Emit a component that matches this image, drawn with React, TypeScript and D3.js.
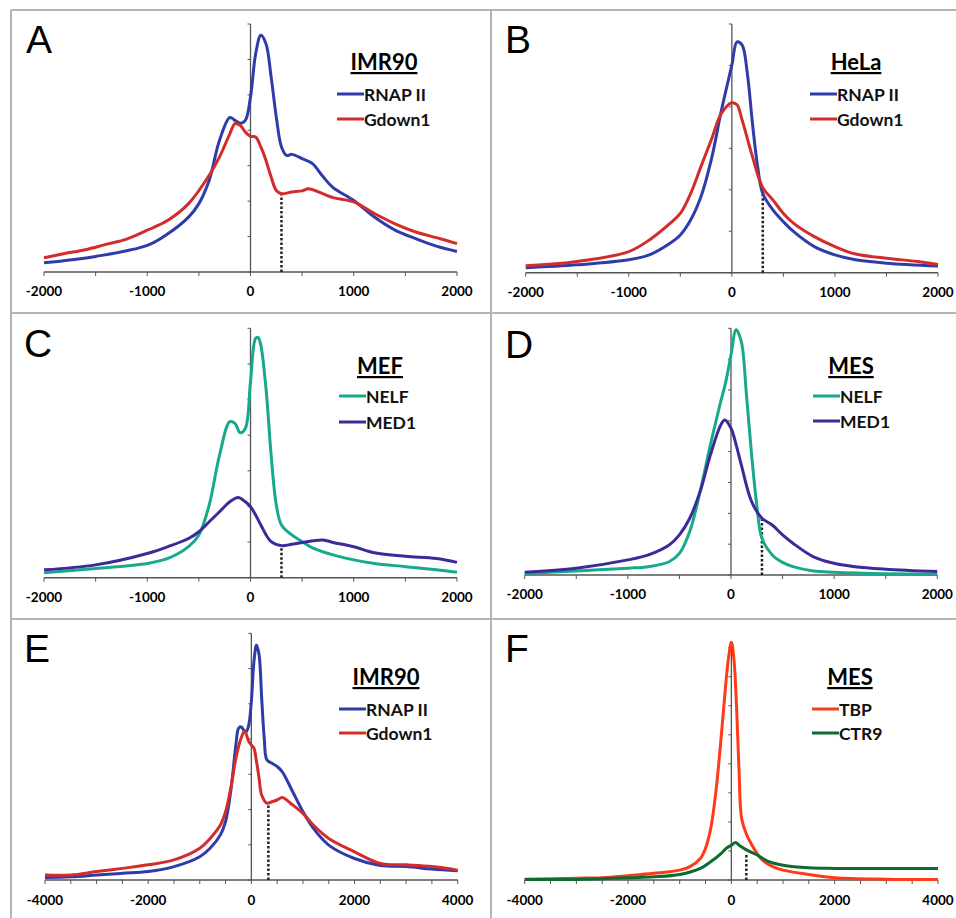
import React from 'react';
import * as d3 from 'd3';

// ---------------- DATA ----------------
// Panel A (IMR90) x in bp, y in tick units
const xA_rnap = [-2000,-1500,-1000,-800,-600,-500,-400,-300,-200,-150,-100,-50,0,50,100,150,200,250,300,350,400,500,600,700,800,1000,1200,1400,1600,1800,2000];
const yA_rnap = [0.26,0.44,0.75,1.08,1.55,1.93,2.59,3.72,4.36,4.28,4.2,4.28,4.94,6.16,6.68,6.44,5.5,4.37,3.53,3.29,3.32,3.2,3.06,2.7,2.38,2.02,1.55,1.18,0.94,0.73,0.58];
const xA_gdown = [-2000,-1800,-1600,-1400,-1200,-1000,-800,-600,-400,-300,-200,-150,-100,-50,0,50,100,150,200,250,300,400,500,560,700,800,1000,1200,1400,1600,1800,2000];
const yA_gdown = [0.40,0.52,0.63,0.78,0.93,1.18,1.46,1.93,2.73,3.25,3.9,4.19,4.14,3.95,3.83,3.81,3.53,3.15,2.68,2.3,2.21,2.26,2.29,2.35,2.21,2.1,1.98,1.65,1.36,1.13,0.97,0.8];

// Panel B (HeLa)
const xB_rnap = [-2000,-1500,-1000,-800,-600,-500,-400,-300,-200,-100,0,50,100,150,200,250,300,400,500,600,800,1000,1200,1500,2000];
const yB_rnap = [0.12,0.19,0.31,0.43,0.71,0.91,1.27,1.83,2.72,3.93,5.01,5.57,5.49,4.81,3.6,2.56,1.91,1.51,1.23,0.99,0.63,0.43,0.31,0.23,0.16];
const xB_gdown = [-2000,-1500,-1000,-800,-600,-500,-400,-300,-200,-100,0,50,100,200,300,400,500,600,800,1000,1200,1500,1800,2000];
const yB_gdown = [0.17,0.27,0.51,0.79,1.19,1.43,1.91,2.56,3.2,3.85,4.1,4.05,3.68,2.8,2.05,1.75,1.43,1.19,0.87,0.63,0.45,0.35,0.27,0.2];

// Panel C (MEF)
const xC_nelf = [-2000,-1500,-1000,-800,-600,-500,-400,-300,-200,-150,-100,-50,0,50,75,100,150,200,250,300,400,500,600,800,1000,1200,1500,1800,2000];
const yC_nelf = [0.14,0.26,0.4,0.54,0.87,1.2,2.04,3.44,4.38,4.33,4.07,4.19,5.5,6.72,6.74,6.53,5.31,3.44,2.04,1.48,1.2,1.01,0.84,0.64,0.5,0.4,0.31,0.22,0.15];
const xC_med = [-2000,-1500,-1000,-800,-600,-500,-400,-300,-200,-120,-50,0,50,100,200,300,400,500,700,800,1000,1200,1500,1800,2000];
const yC_med = [0.22,0.36,0.68,0.87,1.1,1.29,1.57,1.85,2.13,2.25,2.13,1.99,1.76,1.48,1.01,0.9,0.94,0.99,1.06,0.99,0.87,0.7,0.6,0.54,0.43];

// Panel D (MES)
const xD_nelf = [-2000,-1500,-1000,-800,-600,-500,-400,-300,-200,-100,-50,0,50,100,150,200,250,300,400,500,600,800,1000,1500,2000];
const yD_nelf = [0.05,0.13,0.22,0.27,0.43,0.7,1.41,2.7,4.22,5.62,6.27,7.14,7.95,7.57,5.84,3.89,2.27,1.19,0.65,0.41,0.27,0.13,0.09,0.04,0.02];
const xD_med = [-2000,-1500,-1000,-800,-600,-500,-400,-300,-200,-100,-60,0,50,100,200,300,400,500,600,800,1000,1200,1500,2000];
const yD_med = [0.09,0.22,0.49,0.65,0.97,1.3,1.84,2.7,3.89,4.86,5.03,4.76,4.22,3.57,2.38,1.84,1.62,1.3,1.03,0.59,0.38,0.27,0.19,0.11];

// Panel E (IMR90, wide window)
const xE_rnap = [-4000,-3500,-3000,-2500,-2000,-1500,-1000,-800,-600,-500,-400,-300,-250,-200,-150,-100,-50,0,50,100,150,200,250,300,400,500,600,800,1000,1200,1500,2000,2500,3000,3500,4000];
const yE_rnap = [0.07,0.09,0.14,0.19,0.24,0.38,0.66,0.9,1.28,1.66,2.51,3.83,4.3,4.35,4.26,4.21,4.4,5.06,6.2,6.67,6.39,5.16,4.02,3.41,3.31,3.22,3.07,2.51,1.94,1.47,0.99,0.61,0.41,0.38,0.31,0.26];
const xE_gdown = [-4000,-3500,-3000,-2500,-2000,-1500,-1000,-800,-600,-500,-400,-300,-200,-130,-50,0,50,100,150,200,300,400,500,600,800,1000,1200,1500,2000,2500,3000,3500,4000];
const yE_gdown = [0.14,0.14,0.24,0.33,0.43,0.57,0.9,1.18,1.56,1.94,2.6,3.45,4.02,4.23,3.93,3.83,3.74,3.36,2.89,2.41,2.18,2.22,2.27,2.34,2.13,1.89,1.56,1.18,0.8,0.47,0.43,0.38,0.28];

// Panel F (MES)
const xF_tbp = [-4000,-3000,-2500,-2000,-1500,-1000,-800,-600,-500,-400,-300,-200,-100,-50,0,50,100,150,200,300,400,500,600,800,1000,1500,2000,3000,4000];
const yF_tbp = [0.03,0.06,0.08,0.15,0.23,0.34,0.46,0.74,1.09,1.77,3.03,4.86,6.91,7.71,8.19,7.6,6.0,3.71,2.11,1.54,1.2,0.91,0.69,0.46,0.34,0.19,0.08,0.03,0.02];
const xF_ctr = [-4000,-3000,-2000,-1500,-1000,-600,-400,-200,-100,0,80,150,300,500,700,1000,1500,2000,3000,4000];
const yF_ctr = [0.02,0.02,0.08,0.11,0.19,0.4,0.63,0.91,1.09,1.2,1.29,1.2,1.03,0.86,0.65,0.51,0.42,0.4,0.4,0.4];

const panelLetters = ['A','B','C','D','E','F'];
const panelTitles = ['IMR90','HeLa','MEF','MES','IMR90','MES'];
const seriesNames = [['RNAP II','Gdown1'],['RNAP II','Gdown1'],['NELF','MED1'],['NELF','MED1'],['RNAP II','Gdown1'],['TBP','CTR9']];
const dottedX = [300,300,300,300,330,290];
const dottedTop = [2.21,1.95,0.9,1.84,2.2,0.86];
const xTicksNarrow = [-2000,-1000,0,1000,2000];
const xTicksWide = [-4000,-2000,0,2000,4000];

// ---------------- STYLE / LAYOUT ----------------
const C_BLUE = '#2e3caa';
const C_RED = '#d42b2b';
const C_TEAL = '#17a98b';
const C_PURPLE = '#3b2a98';
const C_ORANGE = '#ff3a17';
const C_GREEN = '#0d6a30';

type Panel = {
  left: number; right: number; bottom: number; top: number; yMax: number; wide: boolean;
  xs: number[][]; ys: number[][]; colors: string[];
  letterX: number; letterY: number; titleX: number; titleY: number; legX: number; legY: number; legDy: number;
};

const panels: Panel[] = [
  { left: 44, right: 457, bottom: 272, top: 24, yMax: 7, wide: false,
    xs: [xA_rnap, xA_gdown], ys: [yA_rnap, yA_gdown], colors: [C_BLUE, C_RED],
    letterX: 26, letterY: 53, titleX: 384, titleY: 70, legX: 337, legY: 94, legDy: 25 },
  { left: 525.7, right: 938, bottom: 272.7, top: 24, yMax: 6, wide: false,
    xs: [xB_rnap, xB_gdown], ys: [yB_rnap, yB_gdown], colors: [C_BLUE, C_RED],
    letterX: 505, letterY: 53, titleX: 856, titleY: 70, legX: 810, legY: 94, legDy: 25 },
  { left: 44, right: 457, bottom: 577.7, top: 328.3, yMax: 7, wide: false,
    xs: [xC_nelf, xC_med], ys: [yC_nelf, yC_med], colors: [C_TEAL, C_PURPLE],
    letterX: 24, letterY: 357, titleX: 380, titleY: 374, legX: 339, legY: 396, legDy: 26 },
  { left: 524.7, right: 937.3, bottom: 575, top: 328.3, yMax: 8, wide: false,
    xs: [xD_nelf, xD_med], ys: [yD_nelf, yD_med], colors: [C_TEAL, C_PURPLE],
    letterX: 505, letterY: 358, titleX: 851, titleY: 374, legX: 813, legY: 396, legDy: 25 },
  { left: 45, right: 457.7, bottom: 880, top: 633.3, yMax: 7, wide: true,
    xs: [xE_rnap, xE_gdown], ys: [yE_rnap, yE_gdown], colors: [C_BLUE, C_RED],
    letterX: 24, letterY: 662, titleX: 386, titleY: 685, legX: 339, legY: 709, legDy: 24 },
  { left: 524.7, right: 938, bottom: 880, top: 641, yMax: 8.23, wide: true,
    xs: [xF_tbp, xF_ctr], ys: [yF_tbp, yF_ctr], colors: [C_ORANGE, C_GREEN],
    letterX: 505, letterY: 662, titleX: 850, titleY: 685, legX: 812, legY: 709, legDy: 24 },
];

const LABEL_FONT = 'Lato, "Open Sans", sans-serif';

function PanelView({ p, i }: { p: Panel; i: number }) {
  const xDom = p.wide ? [-4000, 4000] : [-2000, 2000];
  const x = d3.scaleLinear().domain(xDom).range([p.left, p.right]);
  const y = d3.scaleLinear().domain([0, p.yMax]).range([p.bottom, p.top]);
  const line = d3.line<[number, number]>().x(d => x(d[0])).y(d => y(d[1])).curve(d3.curveCatmullRom.alpha(0.5));
  const minorTicks = d3.range(xDom[0], xDom[1] + 1, 500);
  const labelTicks = p.wide ? xTicksWide : xTicksNarrow;
  const yTicks = d3.range(0, Math.floor(p.yMax) + 1);
  const x0 = x(0);
  return (
    <g>
      {/* y axis */}
      <line x1={x0} x2={x0} y1={y(0)} y2={y(p.yMax)} stroke="#555" strokeWidth={1.3} />
      {yTicks.map(t => (
        <line key={'yt' + t} x1={x0 - 3} x2={x0} y1={y(t)} y2={y(t)} stroke="#555" strokeWidth={1} />
      ))}
      {/* x axis */}
      <line x1={p.left} x2={p.right} y1={y(0)} y2={y(0)} stroke="#555" strokeWidth={1.5} />
      {minorTicks.map(t => (
        <line key={'xt' + t} x1={x(t)} x2={x(t)} y1={y(0)} y2={y(0) + 4} stroke="#555" strokeWidth={1} />
      ))}
      {labelTicks.map(t => (
        <text key={'xl' + t} x={x(t)} y={y(0) + (p.wide ? 25 : 24)} textAnchor="middle"
          fontFamily={LABEL_FONT} fontWeight={700} fontSize={13.5} fill="#000">{t}</text>
      ))}
      {/* dotted line */}
      <line x1={x(dottedX[i])} x2={x(dottedX[i])} y1={y(0)} y2={y(dottedTop[i])}
        stroke="#222" strokeWidth={2.5} strokeDasharray="2.5,2" />
      {/* series */}
      {p.xs.map((xs, s) => (
        <path key={'s' + s} d={line(xs.map((v, k) => [v, p.ys[s][k]]) as [number, number][]) || ''}
          fill="none" stroke={p.colors[s]} strokeWidth={3} strokeLinejoin="round" />
      ))}
      {/* letter */}
      <text x={p.letterX} y={p.letterY} fontFamily='"Liberation Sans", Arial, sans-serif' fontSize={39} fill="#000">{panelLetters[i]}</text>
      {/* legend */}
      <text x={p.titleX} y={p.titleY} textAnchor="middle" fontFamily={LABEL_FONT} fontWeight={700}
        fontSize={22} fill="#000" textDecoration="underline">{panelTitles[i]}</text>
      {seriesNames[i].map((n, s) => (
        <g key={'lg' + s}>
          <line x1={p.legX} x2={p.legX + 27} y1={p.legY + s * p.legDy} y2={p.legY + s * p.legDy}
            stroke={p.colors[s]} strokeWidth={3} />
          <text x={p.legX + 27} y={p.legY + s * p.legDy + 6.5} fontFamily={LABEL_FONT} fontWeight={700}
            fontSize={17.5} fill="#111">{n}</text>
        </g>
      ))}
    </g>
  );
}

export default function App() {
  const grid = '#b4b4b4';
  return (
    <div style={{ position: 'absolute', left: 0, top: 0 }}>
      <svg width={956} height={918} viewBox="0 0 956 918" style={{ display: 'block', background: '#fff' }}>
        <rect x={0} y={0} width={956} height={918} fill="#fff" />
        <line x1={11} x2={956} y1={10} y2={10} stroke={grid} strokeWidth={2} />
        <line x1={11} x2={11} y1={10} y2={918} stroke={grid} strokeWidth={2} />
        <line x1={491} x2={491} y1={10} y2={918} stroke={grid} strokeWidth={2} />
        <line x1={11} x2={956} y1={313} y2={313} stroke={grid} strokeWidth={2} />
        <line x1={11} x2={956} y1={619} y2={619} stroke={grid} strokeWidth={2} />
        {panels.map((p, i) => <PanelView key={i} p={p} i={i} />)}
      </svg>
    </div>
  );
}
